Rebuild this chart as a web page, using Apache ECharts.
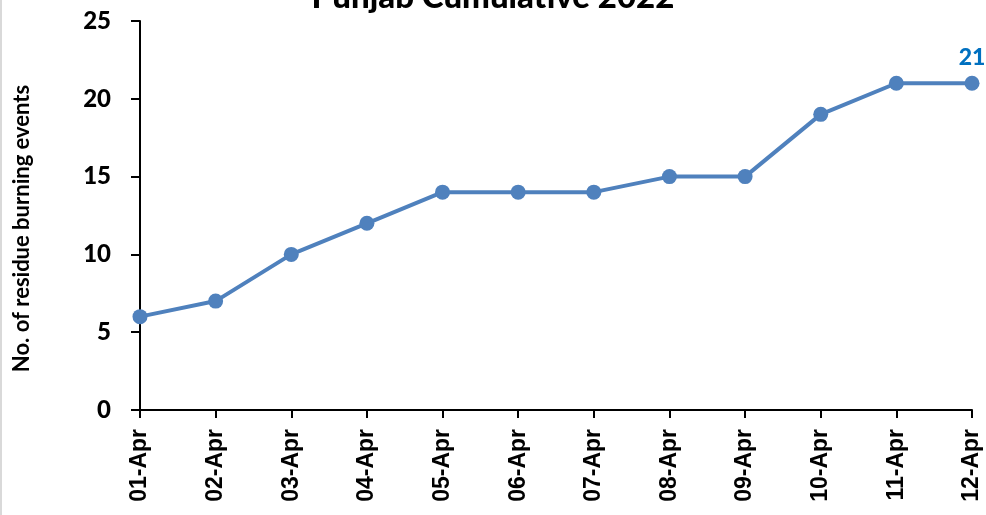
<!DOCTYPE html>
<html>
<head>
<meta charset="utf-8">
<script src="https://cdn.jsdelivr.net/npm/echarts@6/dist/echarts.min.js"></script>
<style>
html,body{margin:0;padding:0;background:#fff;}
#chart{width:986px;height:515px;}
</style>
</head>
<body>
<div id="chart"></div>
<script>
const categories = ['01-Apr','02-Apr','03-Apr','04-Apr','05-Apr','06-Apr','07-Apr','08-Apr','09-Apr','10-Apr','11-Apr','12-Apr'];
const values = [6, 7, 10, 12, 14, 14, 14, 15, 15, 19, 21, 21];
const chartTitle = 'Punjab Cumulative 2022';
const yAxisName = 'No. of residue burning events';

const chart = echarts.init(document.getElementById('chart'));
const lastIdx = values.length - 1;
chart.setOption({
  animation: false,
  backgroundColor: '#fff',
  title: {
    text: chartTitle,
    left: 'center',
    top: -24,
    textStyle: { fontFamily: 'Lato', fontWeight: 900, fontSize: 33, color: '#000' }
  },
  graphic: [{
    type: 'line',
    shape: { x1: 1, y1: 0, x2: 1, y2: 515 },
    style: { stroke: '#d9d9d9', lineWidth: 2 }
  }],
  grid: { left: 140, right: 14, top: 21, bottom: 105, containLabel: false },
  xAxis: {
    type: 'category',
    data: categories,
    boundaryGap: false,
    axisLine: { show: true, lineStyle: { color: '#000', width: 2 } },
    axisTick: { show: true, alignWithLabel: true, length: 8, lineStyle: { color: '#000', width: 2 } },
    axisLabel: {
      rotate: 90, margin: 19, interval: 0,
      fontFamily: 'Liberation Sans', fontWeight: 'bold', fontSize: 23, color: '#000'
    },
    splitLine: { show: false }
  },
  yAxis: {
    type: 'value',
    min: 0, max: 25, interval: 5,
    name: yAxisName,
    nameLocation: 'middle',
    nameRotate: 90,
    nameGap: 107,
    nameTextStyle: { fontFamily: 'Lato', fontWeight: 'bold', fontSize: 22, color: '#000', padding: [0, 26, 0, 0] },
    axisLine: { show: true, lineStyle: { color: '#000', width: 2 } },
    axisTick: { show: true, length: 9, lineStyle: { color: '#000', width: 2 } },
    axisLabel: { margin: 29, fontFamily: 'Lato', fontWeight: 900, fontSize: 24, color: '#000' },
    splitLine: { show: false }
  },
  series: [{
    type: 'line',
    data: values.map((v, i) => i === lastIdx ? {
      value: v,
      label: { show: true, position: 'top', distance: 7, color: '#0070C0', fontFamily: 'Lato', fontWeight: 900, fontSize: 23 }
    } : v),
    symbol: 'circle',
    symbolSize: 15,
    lineStyle: { color: '#4F81BD', width: 4 },
    itemStyle: { color: '#4F81BD' },
    label: { show: false }
  }]
});
</script>
</body>
</html>
